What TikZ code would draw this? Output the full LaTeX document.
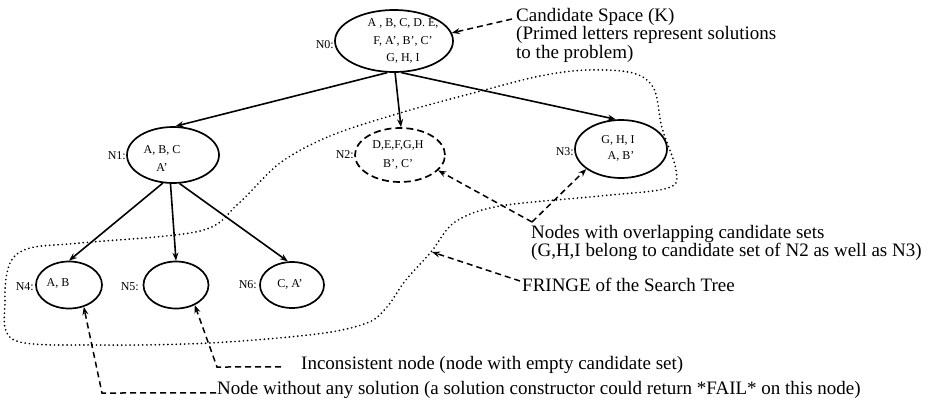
\documentclass[tikz,border=0pt]{standalone}
\usepackage{fontspec}
\setmainfont{Liberation Serif}
\usetikzlibrary{shapes.geometric,arrows.meta,calc}
\begin{document}
\begin{tikzpicture}[x=1pt,y=-1pt,
  tnode/.style={draw,ellipse,line width=1.7pt,inner sep=0pt},
  ntext/.style={font=\fontsize{12}{17.5}\selectfont,align=center,inner sep=0pt},
  nlabel/.style={font=\fontsize{12}{14}\selectfont,anchor=east,inner sep=0pt},
  big/.style={font=\fontsize{19}{18.5}\selectfont,inner sep=0pt,align=left},
  treeedge/.style={line width=1.6pt,-{Stealth[length=8pt,width=6pt]}},
  dasharrow/.style={line width=1.5pt,dash pattern=on 6pt off 4pt,-{Stealth[length=8pt,width=6pt]}},
  fringe/.style={line width=1.9pt,dash pattern=on 0pt off 4.2pt,line cap=round}]
\useasboundingbox (0,0) rectangle (934,402);

% tree nodes
\node[tnode,minimum width=118pt,minimum height=62pt] (n0) at (394,41) {};
\node[tnode,minimum width=92pt,minimum height=56pt] (n1) at (173,155) {};
\node[tnode,dash pattern=on 7pt off 4pt,minimum width=90pt,minimum height=54pt] (n2) at (400,155) {};
\node[tnode,minimum width=92pt,minimum height=58pt] (n3) at (621,149) {};
\node[tnode,minimum width=66pt,minimum height=47pt] (n4) at (69,285) {};
\node[tnode,minimum width=65pt,minimum height=47pt] (n5) at (176,285) {};
\node[tnode,minimum width=64pt,minimum height=46pt] (n6) at (292,285) {};

% texts in nodes
\node[ntext] (t0) at (403,41) {A , B, C, D. E,\\F, A', B', C'\\G, H, I};
\node[ntext,font=\fontsize{12}{18}\selectfont] (t1) at (162,159) {A, B, C\\A'};
\node[ntext,font=\fontsize{12}{19}\selectfont] (t2) at (398,155) {D,E,F,G,H\\B', C'};
\node[ntext,font=\fontsize{12}{16}\selectfont] (t3) at (618,148) {G, H, I\\\hspace*{6pt}A, B'};
\node[ntext] (t4) at (58,283) {A, B};
\node[ntext] (t6) at (290,284) {C, A'};

% node labels
\node[nlabel] (l0) at (334,45) {N0:};
\node[nlabel] (l1) at (126,156) {N1:};
\node[nlabel] (l2) at (354,155) {N2:};
\node[nlabel] (l3) at (574,152) {N3:};
\node[nlabel] (l4) at (34,287) {N4:};
\node[nlabel] (l5) at (139,287) {N5:};
\node[nlabel] (l6) at (257,285) {N6:};

% tree edges
\draw[treeedge] (n0.258) -- (n1.85);
\draw[treeedge] (n0.272) -- (n2.88);
\draw[treeedge] (n0.283) -- (n3.100);
\draw[treeedge] (n1.250) -- (n4.north);
\draw[treeedge] (n1.265) -- (n5.north);
\draw[treeedge] (n1.283) -- (n6.100);

% fringe
\draw[fringe] plot[smooth cycle,tension=0.55] coordinates {
  (280,163) (330,136) (400,113) (477,92) (540,76) (587,70) (633,73)
  (654,89) (662,128) (676,170) (668,188) (600,196) (500,206) (455,222)
  (431,252) (405,281) (387,307) (367,323) (317,334) (210,343) (100,345)
  (14,340) (5,300) (10,263) (30,248) (80,243) (200,231) (238,204)};

% annotations
\node[big,anchor=north west] (cand) at (516,8) {Candidate Space (K)\\(Primed letters represent solutions\\to the problem)};
\coordinate (cA) at (512,19);
\draw[dasharrow] (cA) -- (n0.8);

\node[big,anchor=north west] (ovl) at (531,225) {Nodes with overlapping candidate sets\\(G,H,I belong to candidate set of N2 as well as N3)};
\coordinate (ov) at (532,222);
\draw[dasharrow] (ov) -- (n2.-22);
\draw[dasharrow] (ov) -- (n3.210);

\node[big,anchor=west] (frl) at (522,285) {FRINGE of the Search Tree};
\coordinate (ft) at (432,252);
\draw[dasharrow] ([xshift=-2pt,yshift=4pt]frl.west) -- (ft);

\node[big,anchor=base west] (inc) at (301,369) {Inconsistent node (node with empty candidate set)};
\coordinate (k1) at (217,367);
\draw[dasharrow] ([xshift=-20pt,yshift=-2.5pt]inc.west) -- (k1) -- (n5.-47);

\node[big,anchor=base west] (nws) at (217,394) {Node without any solution (a solution constructor could return *FAIL* on this node)};
\coordinate (k2) at (102,393);
\draw[dasharrow] ([xshift=-1pt,yshift=-3.5pt]nws.west) -- (k2) -- (n4.-56);
\end{tikzpicture}
\end{document}
